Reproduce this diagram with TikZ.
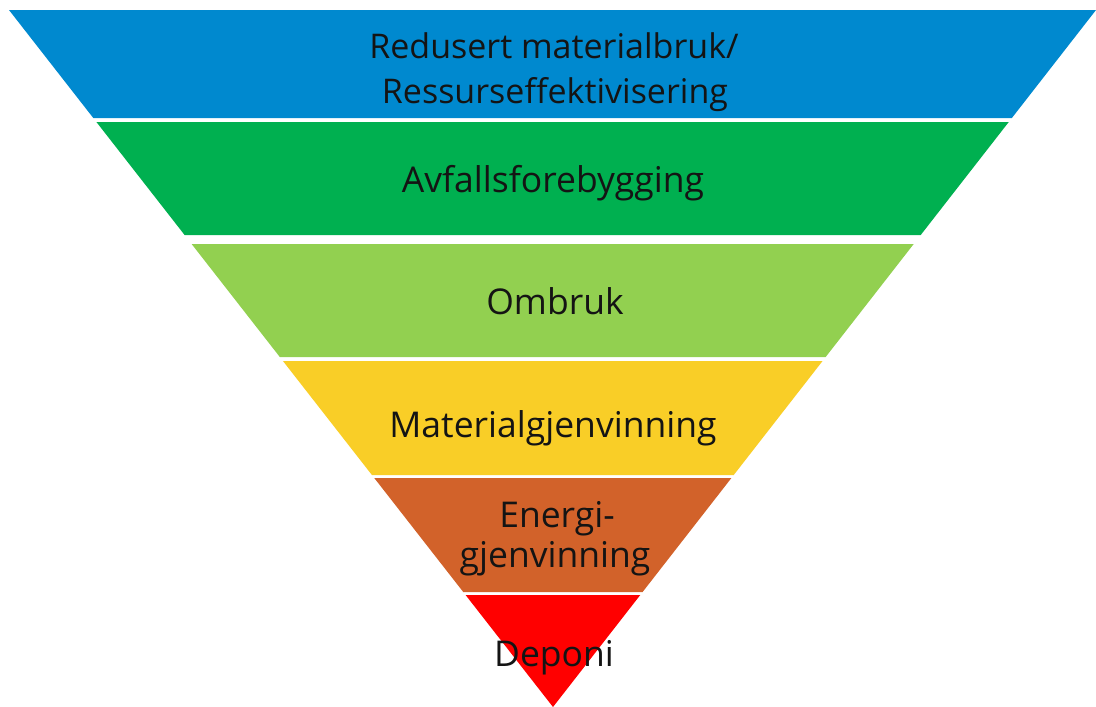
\documentclass[tikz,border=0pt]{standalone}
\usepackage{fontspec}
\setmainfont{Open Sans}
\definecolor{cblue}{RGB}{0,137,207}
\definecolor{cgreen}{RGB}{0,176,80}
\definecolor{clgreen}{RGB}{146,208,80}
\definecolor{cyellow}{RGB}{249,206,39}
\definecolor{corange}{RGB}{210,98,42}
\definecolor{cred}{RGB}{255,0,0}
\tikzset{
  lbl/.style={font=\fontsize{35.5}{40}\selectfont, text=black!92, inner sep=0pt, anchor=base},
  toplbl/.style={lbl, font=\fontsize{34}{45}\selectfont},
}
\begin{document}
\begin{tikzpicture}[x=1pt,y=-1pt]
\useasboundingbox (0,0) rectangle (1096,707);
\fill[white] (0,0) rectangle (1096,707);
% left edge xl(y)=9+(y-10)*544/697 ; right edge xr(y)=1096-(y-10)*543/697
\newcommand\bandfill[3]{%
  \pgfmathsetmacro\xla{9+(#1-10)*0.78049}%
  \pgfmathsetmacro\xra{1096-(#1-10)*0.77905}%
  \pgfmathsetmacro\xlb{9+(#2-10)*0.78049}%
  \pgfmathsetmacro\xrb{1096-(#2-10)*0.77905}%
  \fill[#3] (\xla,#1) -- (\xra,#1) -- (\xrb,#2) -- (\xlb,#2) -- cycle;}
\bandfill{10}{118}{cblue}
\bandfill{122}{235}{cgreen}
\bandfill{244}{357}{clgreen}
\bandfill{361}{475}{cyellow}
\bandfill{478}{592}{corange}
\bandfill{595}{707}{cred}
\node[toplbl] (t1a) at (554,58) {Redusert materialbruk/};
\node[toplbl] (t1b) at (555,103) {Ressurseffektivisering};
\node[lbl] (t2) at (553,192) {Avfallsforebygging};
\node[lbl] (t3) at (555,314) {Ombruk};
\node[lbl] (t4) at (553,437) {Materialgjenvinning};
\node[lbl] (t5a) at (557,527) {Energi-};
\node[lbl] (t5b) at (555,567) {gjenvinning};
\node[lbl] (t6) at (554,666) {Deponi};
\end{tikzpicture}
\end{document}
